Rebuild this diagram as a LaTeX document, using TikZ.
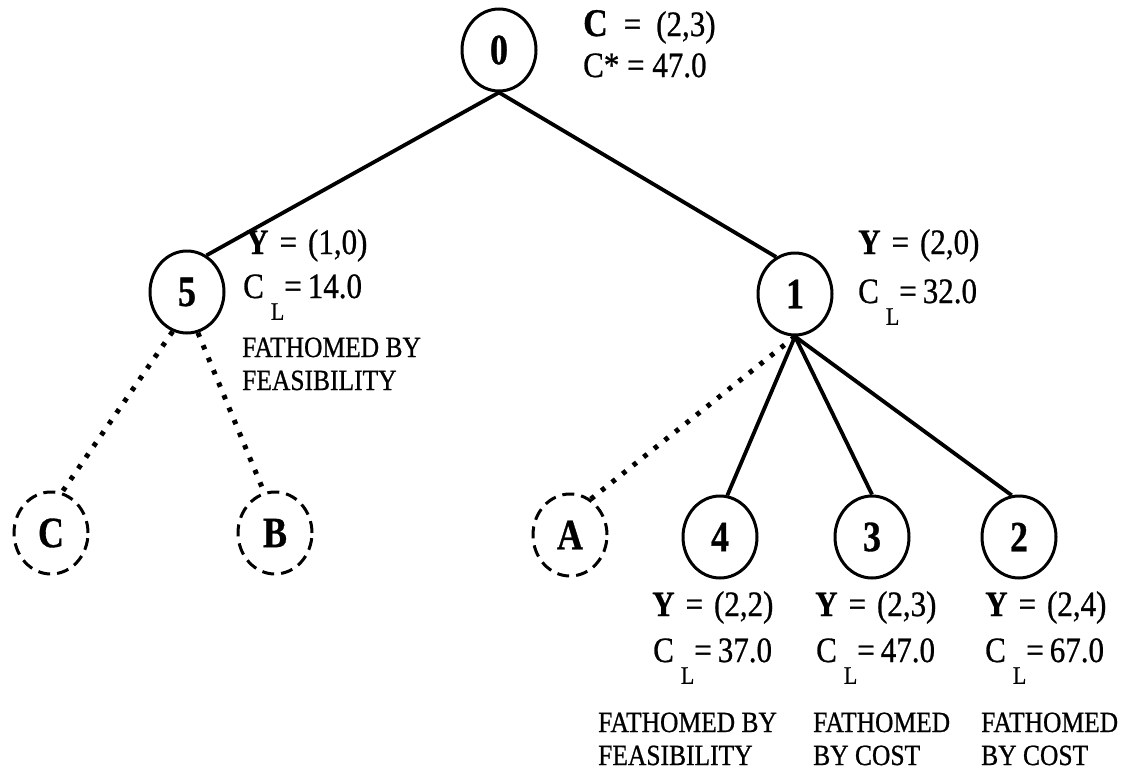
\documentclass[tikz,border=0pt]{standalone}
\usepackage{fontspec}
\setmainfont{Liberation Serif}[UprightFeatures={FakeBold=0.8}, BoldFeatures={FakeBold=0.8}]
\usetikzlibrary{shapes.geometric}
\newcommand\tx[1]{\scalebox{1}[1.15]{#1}}
\newcommand\nx[1]{\scalebox{1}[1.2]{#1}}
\newcommand\CLeq[1]{\tx{C\kern7pt\raisebox{-19pt}{\fontsize{22}{22}\selectfont L}=\hspace{6pt}#1}}
\newcommand\Yeq[1]{\tx{\textbf{Y}\hspace{11pt}=\hspace{11pt}#1}}
\begin{document}
\begin{tikzpicture}[x=1pt,y=-1pt,
  nd/.style={draw, ellipse, line width=3pt, minimum width=74pt, minimum height=82pt, inner sep=0pt, font=\fontsize{36}{36}\selectfont\bfseries},
  dnd/.style={nd, dash pattern=on 12pt off 7pt},
  edge/.style={line width=3.8pt},
  dotline/.style={line width=5pt, dash pattern=on 4.5pt off 9pt},
  lab/.style={anchor=base west, inner sep=0pt, font=\fontsize{31}{38}\selectfont},
  fat/.style={anchor=base west, inner sep=0pt, font=\fontsize{25.5}{33}\selectfont},
]
\useasboundingbox (0,0) rectangle (1133,774);
% nodes
\node[nd] (n0) at (499,50) {\nx{0}};
\node[nd] (n5) at (187,292) {\nx{5}};
\node[nd] (n1) at (795,294) {\nx{1}};
\node[dnd] (nC) at (51,533) {\nx{C}};
\node[dnd] (nB) at (275,533) {\nx{B}};
\node[dnd] (nA) at (570,535) {\nx{A}};
\node[nd] (n4) at (720,537) {\nx{4}};
\node[nd] (n3) at (872,537) {\nx{3}};
\node[nd] (n2) at (1019,537) {\nx{2}};
% edges
\draw[edge] (n0.south) -- (n5.62);
\draw[edge] (n0.south) -- (n1.117);
\draw[dotline] (n5.-110) -- (nC.75);
\draw[dotline] (n5.-75) -- (nB.105);
\draw[dotline] (n1.south) -- (nA.60);
\draw[edge] (n1.south) -- (n4.80);
\draw[edge] (n1.south) -- (n3.north);
\draw[edge] (n1.south) -- (n2.100);
% labels
\node[lab] (t0a) at (583,36) {\tx{{\fontsize{34}{34}\selectfont\bfseries C}\hspace{16pt}=\hspace{15pt}(2,3)}};
\node[lab] (t0b) at (583,77) {\tx{C* = 47.0}};
\node[lab] (t5a) at (246,254) {\Yeq{(1,0)}};
\node[lab] (t5b) at (243,298) {\CLeq{14.0}};
\node[fat] (t5c) at (242,357) {\tx{FATHOMED BY}};
\node[fat] (t5d) at (242,390) {\tx{FEASIBILITY}};
\node[lab] (t1a) at (858,254) {\Yeq{(2,0)}};
\node[lab] (t1b) at (858,303) {\CLeq{32.0}};
\node[lab] (t4a) at (652,616) {\Yeq{(2,2)}};
\node[lab] (t4b) at (653,662) {\CLeq{37.0}};
\node[fat] (t4c) at (598,732) {\tx{FATHOMED BY}};
\node[fat] (t4d) at (598,765) {\tx{FEASIBILITY}};
\node[lab] (t3a) at (815,616) {\Yeq{(2,3)}};
\node[lab] (t3b) at (816,662) {\CLeq{47.0}};
\node[fat] (t3c) at (813,732) {\tx{FATHOMED}};
\node[fat] (t3d) at (813,765) {\tx{BY COST}};
\node[lab] (t2a) at (985,616) {\Yeq{(2,4)}};
\node[lab] (t2b) at (985,662) {\CLeq{67.0}};
\node[fat] (t2c) at (981,732) {\tx{FATHOMED}};
\node[fat] (t2d) at (981,765) {\tx{BY COST}};
\end{tikzpicture}
\end{document}
